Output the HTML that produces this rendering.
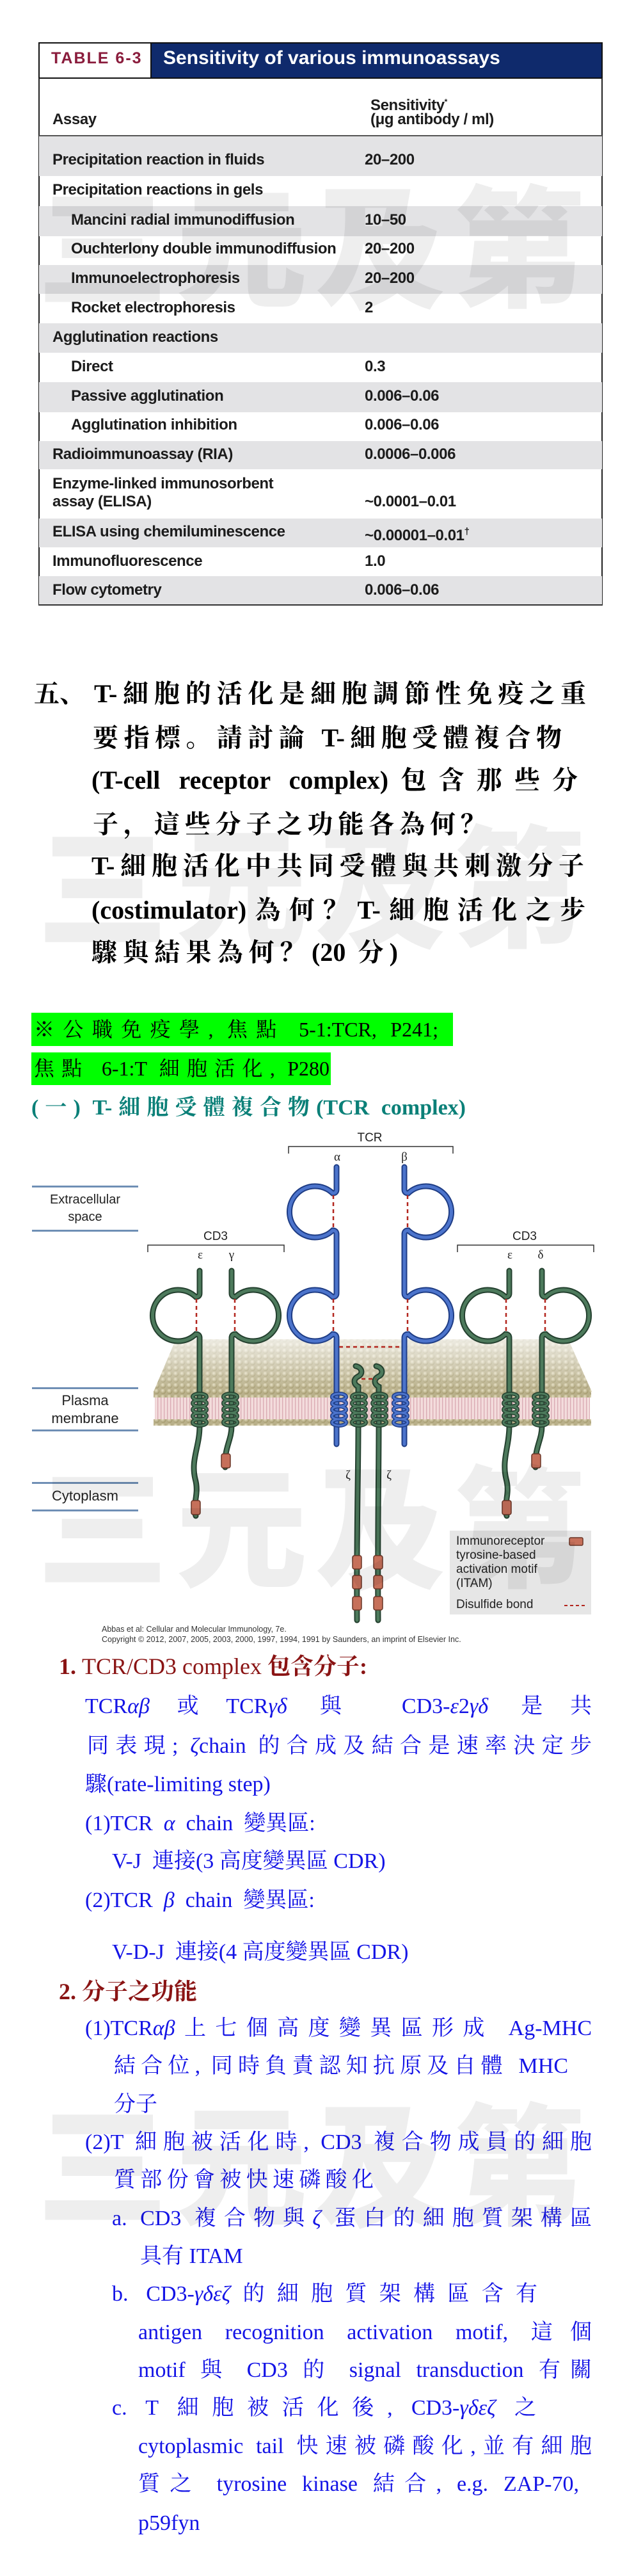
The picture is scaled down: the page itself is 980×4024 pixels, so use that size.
<!DOCTYPE html>
<html><head><meta charset="utf-8">
<style>
body{margin:0;padding:0;background:#fff;}
#pg{position:relative;width:980px;height:4024px;overflow:hidden;background:#fff;}
.a{position:absolute;white-space:nowrap;}
.tr{position:absolute;left:61px;width:880px;}
.g{background:#e3e3e5;}
.tc{position:absolute;font-family:"Liberation Sans",sans-serif;font-weight:bold;font-size:24px;letter-spacing:-0.4px;color:#1c1c1c;white-space:nowrap;line-height:28px;}
.wm{position:absolute;left:58px;font-family:"Noto Sans CJK TC","Noto Sans CJK SC",sans-serif;font-weight:900;font-size:205px;line-height:205px;letter-spacing:12px;color:rgba(0,0,0,0.065);z-index:20;white-space:nowrap;}
.q{position:absolute;font-family:"Liberation Serif","Noto Serif CJK SC",serif;font-weight:bold;font-size:40px;line-height:60px;height:60px;color:#000;text-align:justify;text-align-last:justify;}
.b{position:absolute;font-family:"Liberation Serif","Noto Serif CJK SC",serif;font-size:34px;line-height:60px;height:60px;color:#1414e6;}
.j{text-align:justify;text-align-last:justify;}
.r{position:absolute;font-family:"Liberation Serif","Noto Serif CJK SC",serif;font-weight:bold;font-size:36px;line-height:60px;height:60px;color:#8a1414;}
i{font-style:italic;}
.lab{position:absolute;font-family:"Liberation Sans",sans-serif;color:#222;text-align:center;}
.lb{position:absolute;left:50px;width:166px;height:0;border-top:3px solid #6f8fb5;}
</style></head><body><div id="pg">

<!-- TABLE -->
<div class="a" style="left:60px;top:66px;width:882px;height:57px;border:2px solid #111;box-sizing:border-box;background:#0f2a6c;"></div>
<div class="a" style="left:60px;top:66px;width:177px;height:57px;border:2px solid #111;box-sizing:border-box;background:#fff;"></div>
<div class="a" style="left:80px;top:77px;font-family:'Liberation Sans',sans-serif;font-weight:bold;font-size:25px;letter-spacing:2px;color:#8a1c3c;">TABLE 6-3</div>
<div class="a" style="left:255px;top:74px;font-family:'Liberation Sans',sans-serif;font-weight:bold;font-size:30px;color:#fff;">Sensitivity of various immunoassays</div>
<div class="a" style="left:60px;top:122px;width:2px;height:823px;background:#222;"></div>
<div class="a" style="left:940px;top:122px;width:2px;height:823px;background:#222;"></div>
<div class="tc" style="left:82px;top:173px;">Assay</div>
<div class="tc" style="left:579px;top:145px;">Sensitivity<sup style="font-size:12px">*</sup></div>
<div class="tc" style="left:579px;top:173px;">(μg antibody / ml)</div>
<div class="a" style="left:61px;top:211px;width:880px;height:2px;background:#555;"></div>

<div class="tr g" style="top:213px;height:62px;"></div>
<div class="tr g" style="top:322px;height:47px;"></div>
<div class="tr g" style="top:414px;height:45px;"></div>
<div class="tr g" style="top:505px;height:46px;"></div>
<div class="tr g" style="top:597px;height:47px;"></div>
<div class="tr g" style="top:689px;height:44px;"></div>
<div class="tr g" style="top:810px;height:45px;"></div>
<div class="tr g" style="top:900px;height:45px;"></div>
<div class="a" style="left:60px;top:944px;width:882px;height:2px;background:#333;"></div>

<div class="tc" style="left:82px;top:236px;">Precipitation reaction in fluids</div><div class="tc" style="left:570px;top:236px;">20–200</div>
<div class="tc" style="left:82px;top:283px;">Precipitation reactions in gels</div>
<div class="tc" style="left:111px;top:330px;">Mancini radial immunodiffusion</div><div class="tc" style="left:570px;top:330px;">10–50</div>
<div class="tc" style="left:111px;top:375px;">Ouchterlony double immunodiffusion</div><div class="tc" style="left:570px;top:375px;">20–200</div>
<div class="tc" style="left:111px;top:421px;">Immunoelectrophoresis</div><div class="tc" style="left:570px;top:421px;">20–200</div>
<div class="tc" style="left:111px;top:467px;">Rocket electrophoresis</div><div class="tc" style="left:570px;top:467px;">2</div>
<div class="tc" style="left:82px;top:513px;">Agglutination reactions</div>
<div class="tc" style="left:111px;top:559px;">Direct</div><div class="tc" style="left:570px;top:559px;">0.3</div>
<div class="tc" style="left:111px;top:605px;">Passive agglutination</div><div class="tc" style="left:570px;top:605px;">0.006–0.06</div>
<div class="tc" style="left:111px;top:650px;">Agglutination inhibition</div><div class="tc" style="left:570px;top:650px;">0.006–0.06</div>
<div class="tc" style="left:82px;top:696px;">Radioimmunoassay (RIA)</div><div class="tc" style="left:570px;top:696px;">0.0006–0.006</div>
<div class="tc" style="left:82px;top:742px;">Enzyme-linked immunosorbent</div>
<div class="tc" style="left:82px;top:770px;">assay (ELISA)</div><div class="tc" style="left:570px;top:770px;">~0.0001–0.01</div>
<div class="tc" style="left:82px;top:817px;">ELISA using chemiluminescence</div><div class="tc" style="left:570px;top:817px;">~0.00001–0.01<sup style="font-size:15px">†</sup></div>
<div class="tc" style="left:82px;top:863px;">Immunofluorescence</div><div class="tc" style="left:570px;top:863px;">1.0</div>
<div class="tc" style="left:82px;top:908px;">Flow cytometry</div><div class="tc" style="left:570px;top:908px;">0.006–0.06</div>

<!-- QUESTION -->
<div class="q" style="left:53px;top:1054px;text-align:left;text-align-last:left;">五、</div>
<div class="q" style="left:147px;top:1054px;width:769px;">T-細胞的活化是細胞調節性免疫之重</div>
<div class="q" style="left:145px;top:1123px;width:733px;">要指標。請討論 T-細胞受體複合物</div>
<div class="q" style="left:143px;top:1189px;width:760px;">(T-cell receptor complex)包含那些分</div>
<div class="q" style="left:145px;top:1258px;width:615px;">子，這些分子之功能各為何？</div>
<div class="q" style="left:143px;top:1323px;width:770px;">T-細胞活化中共同受體與共刺激分子</div>
<div class="q" style="left:143px;top:1392px;width:772px;">(costimulator)為何？T-細胞活化之步</div>
<div class="q" style="left:143px;top:1458px;width:479px;">驟與結果為何？(20 分)</div>

<div class="a" style="left:49px;top:1582px;width:659px;height:52px;background:#00ff00;"></div>
<div class="a" style="left:49px;top:1644px;width:468px;height:51px;background:#00ff00;"></div>
<div class="b j" style="left:53px;top:1578px;width:632px;color:#000;font-size:32px;">※公職免疫學, 焦點 5-1:TCR, P241;</div>
<div class="b j" style="left:53px;top:1639px;width:462px;color:#000;font-size:32px;">焦點 6-1:T 細胞活化, P280</div>
<div class="r" style="left:49px;top:1701px;font-size:34px;color:#0b8078;width:679px;text-align:justify;text-align-last:justify;">(一) T-細胞受體複合物(TCR complex)</div>

<!-- FIGURE -->
<svg class="a" style="left:0;top:1760px;" width="980" height="820" viewBox="0 1760 980 820" xmlns="http://www.w3.org/2000/svg">
<defs>
<radialGradient id="bd" cx="40%" cy="35%" r="60%"><stop offset="0" stop-color="#e6dfc2"/><stop offset="1" stop-color="#a59b70"/></radialGradient>
<pattern id="beads" width="10" height="9" patternUnits="userSpaceOnUse"><rect width="10" height="9" fill="#b9b08a"/><circle cx="5" cy="4.5" r="4.3" fill="url(#bd)"/></pattern>
<pattern id="lip" width="5" height="36" patternUnits="userSpaceOnUse"><rect width="5" height="36" fill="#f3dcdc"/><rect x="1" width="1.3" height="36" fill="#d9a9b2"/></pattern>
<linearGradient id="fade" x1="0" y1="0" x2="0" y2="1"><stop offset="0" stop-color="#fff" stop-opacity="0.75"/><stop offset="1" stop-color="#fff" stop-opacity="0"/></linearGradient>
<path id="pa" d="M526,1823 V1858 Q526,1864 520,1864 A40,40 0 1 0 520,1922 Q526,1922 526,1928 V2020 Q526,2026 520,2026 A40,40 0 1 0 520,2084 Q526,2084 526,2090 V2256"/>
<path id="pb" d="M632,1823 V1858 Q632,1864 638,1864 A40,40 0 1 1 638,1922 Q632,1922 632,1928 V2020 Q632,2026 638,2026 A40,40 0 1 1 638,2084 Q632,2084 632,2090 V2256"/>
<path id="e1" d="M312,1985 V2020 Q312,2026 306,2026 A40,40 0 1 0 306,2084 Q312,2084 312,2090 V2228 C312,2260 298,2280 305,2310 C312,2335 300,2350 306,2368"/>
<path id="g1" d="M362,1985 V2020 Q362,2026 368,2026 A40,40 0 1 1 368,2084 Q362,2084 362,2090 V2228 C362,2250 350,2262 352,2292"/>
<path id="e2" d="M796,1985 V2020 Q796,2026 790,2026 A40,40 0 1 0 790,2084 Q796,2084 796,2090 V2228 C796,2260 784,2280 791,2310 C798,2335 786,2350 792,2368"/>
<path id="d2" d="M847,1985 V2020 Q847,2026 853,2026 A40,40 0 1 1 853,2084 Q847,2084 847,2090 V2228 C847,2250 835,2262 837,2292"/>
<path id="z1" d="M556,2134 C566,2136 568,2146 560,2150 C552,2154 552,2162 560,2166 V2230 C560,2300 557,2400 558,2531"/>
<path id="z2" d="M588,2134 C598,2136 600,2146 592,2150 C584,2154 584,2162 592,2166 V2230 C592,2300 590,2400 591,2531"/>
</defs>
<text x="578" y="1783" font-family="Liberation Sans" font-size="19" text-anchor="middle" fill="#222">TCR</text>
<path d="M451,1802 V1791 H708 V1802" fill="none" stroke="#333" stroke-width="1.5"/>
<text x="527" y="1813" font-family="Liberation Serif" font-size="19" text-anchor="middle" fill="#222">α</text>
<text x="632" y="1813" font-family="Liberation Serif" font-size="19" text-anchor="middle" fill="#222">β</text>
<text x="337" y="1937" font-family="Liberation Sans" font-size="19" text-anchor="middle" fill="#222">CD3</text>
<path d="M231,1956 V1945 H444 V1956" fill="none" stroke="#333" stroke-width="1.5"/>
<text x="313" y="1966" font-family="Liberation Serif" font-size="19" text-anchor="middle" fill="#222">ε</text>
<text x="362" y="1966" font-family="Liberation Serif" font-size="19" text-anchor="middle" fill="#222">γ</text>
<text x="820" y="1937" font-family="Liberation Sans" font-size="19" text-anchor="middle" fill="#222">CD3</text>
<path d="M715,1956 V1945 H928 V1956" fill="none" stroke="#333" stroke-width="1.5"/>
<text x="797" y="1966" font-family="Liberation Serif" font-size="19" text-anchor="middle" fill="#222">ε</text>
<text x="845" y="1966" font-family="Liberation Serif" font-size="19" text-anchor="middle" fill="#222">δ</text>
<polygon points="275,2092 888,2092 925,2174 240,2174" fill="url(#beads)"/>
<polygon points="275,2092 888,2092 925,2174 240,2174" fill="url(#fade)"/>
<rect x="242" y="2180" width="680" height="40" fill="url(#lip)"/>
<rect x="240" y="2173" width="684" height="10" fill="url(#beads)"/>
<rect x="240" y="2217" width="684" height="10" fill="url(#beads)"/>
<g fill="none" stroke-linecap="round">
<g stroke="#24402f" stroke-width="9"><use href="#e1"/><use href="#g1"/><use href="#e2"/><use href="#d2"/><use href="#z1"/><use href="#z2"/></g>
<g stroke="#4d7a5c" stroke-width="5"><use href="#e1"/><use href="#g1"/><use href="#e2"/><use href="#d2"/><use href="#z1"/><use href="#z2"/></g>
<g stroke="#1f3d85" stroke-width="9"><use href="#pa"/><use href="#pb"/></g>
<g stroke="#4c74cc" stroke-width="5"><use href="#pa"/><use href="#pb"/></g>
</g>
<g stroke="#b3261e" stroke-width="2.5" stroke-dasharray="6,5" fill="none">
<path d="M521,1867 V1920 M521,2029 V2082 M637,1867 V1920 M637,2029 V2082 M307,2029 V2082 M367,2029 V2082 M791,2029 V2082 M852,2029 V2082 M530,2104 H628 M565,2154 H588"/>
</g>
<g fill="none">
<g stroke="#24402f" stroke-width="6">
<ellipse cx="312" cy="2182" rx="11" ry="5"/><ellipse cx="312" cy="2192" rx="11" ry="5"/><ellipse cx="312" cy="2202" rx="11" ry="5"/><ellipse cx="312" cy="2212" rx="11" ry="5"/><ellipse cx="312" cy="2222" rx="11" ry="5"/>
<ellipse cx="360" cy="2182" rx="11" ry="5"/><ellipse cx="360" cy="2192" rx="11" ry="5"/><ellipse cx="360" cy="2202" rx="11" ry="5"/><ellipse cx="360" cy="2212" rx="11" ry="5"/><ellipse cx="360" cy="2222" rx="11" ry="5"/>
<ellipse cx="561" cy="2182" rx="11" ry="5"/><ellipse cx="561" cy="2192" rx="11" ry="5"/><ellipse cx="561" cy="2202" rx="11" ry="5"/><ellipse cx="561" cy="2212" rx="11" ry="5"/><ellipse cx="561" cy="2222" rx="11" ry="5"/>
<ellipse cx="593" cy="2182" rx="11" ry="5"/><ellipse cx="593" cy="2192" rx="11" ry="5"/><ellipse cx="593" cy="2202" rx="11" ry="5"/><ellipse cx="593" cy="2212" rx="11" ry="5"/><ellipse cx="593" cy="2222" rx="11" ry="5"/>
<ellipse cx="798" cy="2182" rx="11" ry="5"/><ellipse cx="798" cy="2192" rx="11" ry="5"/><ellipse cx="798" cy="2202" rx="11" ry="5"/><ellipse cx="798" cy="2212" rx="11" ry="5"/><ellipse cx="798" cy="2222" rx="11" ry="5"/>
<ellipse cx="845" cy="2182" rx="11" ry="5"/><ellipse cx="845" cy="2192" rx="11" ry="5"/><ellipse cx="845" cy="2202" rx="11" ry="5"/><ellipse cx="845" cy="2212" rx="11" ry="5"/><ellipse cx="845" cy="2222" rx="11" ry="5"/>
</g>
<g stroke="#4d7a5c" stroke-width="3">
<ellipse cx="312" cy="2182" rx="11" ry="5"/><ellipse cx="312" cy="2192" rx="11" ry="5"/><ellipse cx="312" cy="2202" rx="11" ry="5"/><ellipse cx="312" cy="2212" rx="11" ry="5"/><ellipse cx="312" cy="2222" rx="11" ry="5"/>
<ellipse cx="360" cy="2182" rx="11" ry="5"/><ellipse cx="360" cy="2192" rx="11" ry="5"/><ellipse cx="360" cy="2202" rx="11" ry="5"/><ellipse cx="360" cy="2212" rx="11" ry="5"/><ellipse cx="360" cy="2222" rx="11" ry="5"/>
<ellipse cx="561" cy="2182" rx="11" ry="5"/><ellipse cx="561" cy="2192" rx="11" ry="5"/><ellipse cx="561" cy="2202" rx="11" ry="5"/><ellipse cx="561" cy="2212" rx="11" ry="5"/><ellipse cx="561" cy="2222" rx="11" ry="5"/>
<ellipse cx="593" cy="2182" rx="11" ry="5"/><ellipse cx="593" cy="2192" rx="11" ry="5"/><ellipse cx="593" cy="2202" rx="11" ry="5"/><ellipse cx="593" cy="2212" rx="11" ry="5"/><ellipse cx="593" cy="2222" rx="11" ry="5"/>
<ellipse cx="798" cy="2182" rx="11" ry="5"/><ellipse cx="798" cy="2192" rx="11" ry="5"/><ellipse cx="798" cy="2202" rx="11" ry="5"/><ellipse cx="798" cy="2212" rx="11" ry="5"/><ellipse cx="798" cy="2222" rx="11" ry="5"/>
<ellipse cx="845" cy="2182" rx="11" ry="5"/><ellipse cx="845" cy="2192" rx="11" ry="5"/><ellipse cx="845" cy="2202" rx="11" ry="5"/><ellipse cx="845" cy="2212" rx="11" ry="5"/><ellipse cx="845" cy="2222" rx="11" ry="5"/>
</g>
<g stroke="#1f3d85" stroke-width="6">
<ellipse cx="530" cy="2182" rx="11" ry="5"/><ellipse cx="530" cy="2192" rx="11" ry="5"/><ellipse cx="530" cy="2202" rx="11" ry="5"/><ellipse cx="530" cy="2212" rx="11" ry="5"/><ellipse cx="530" cy="2222" rx="11" ry="5"/>
<ellipse cx="626" cy="2182" rx="11" ry="5"/><ellipse cx="626" cy="2192" rx="11" ry="5"/><ellipse cx="626" cy="2202" rx="11" ry="5"/><ellipse cx="626" cy="2212" rx="11" ry="5"/><ellipse cx="626" cy="2222" rx="11" ry="5"/>
</g>
<g stroke="#4c74cc" stroke-width="3">
<ellipse cx="530" cy="2182" rx="11" ry="5"/><ellipse cx="530" cy="2192" rx="11" ry="5"/><ellipse cx="530" cy="2202" rx="11" ry="5"/><ellipse cx="530" cy="2212" rx="11" ry="5"/><ellipse cx="530" cy="2222" rx="11" ry="5"/>
<ellipse cx="626" cy="2182" rx="11" ry="5"/><ellipse cx="626" cy="2192" rx="11" ry="5"/><ellipse cx="626" cy="2202" rx="11" ry="5"/><ellipse cx="626" cy="2212" rx="11" ry="5"/><ellipse cx="626" cy="2222" rx="11" ry="5"/>
</g>
</g>
<g fill="#c6705a" stroke="#6a3526" stroke-width="1.5">
<rect x="299" y="2344" width="14" height="22" rx="3"/>
<rect x="346" y="2271" width="14" height="22" rx="3"/>
<rect x="785" y="2344" width="14" height="22" rx="3"/>
<rect x="831" y="2271" width="14" height="22" rx="3"/>
<rect x="551" y="2430" width="14" height="21" rx="3"/><rect x="551" y="2461" width="14" height="21" rx="3"/><rect x="551" y="2494" width="14" height="21" rx="3"/>
<rect x="584" y="2430" width="14" height="21" rx="3"/><rect x="584" y="2461" width="14" height="21" rx="3"/><rect x="584" y="2494" width="14" height="21" rx="3"/>
</g>
<text x="544" y="2310" font-family="Liberation Serif" font-size="19" text-anchor="middle" fill="#222">ζ</text>
<text x="608" y="2310" font-family="Liberation Serif" font-size="19" text-anchor="middle" fill="#222">ζ</text>
<rect x="703" y="2391" width="221" height="131" fill="#e6e6e6"/>
<g font-family="Liberation Sans" font-size="19" fill="#222">
<text x="713" y="2413">Immunoreceptor</text>
<text x="713" y="2435">tyrosine-based</text>
<text x="713" y="2457">activation motif</text>
<text x="713" y="2479">(ITAM)</text>
<text x="713" y="2512">Disulfide bond</text>
</g>
<rect x="890" y="2402" width="21" height="12" rx="2" fill="#c6705a" stroke="#6a3526" stroke-width="1.5"/>
<path d="M882,2508 H916" stroke="#b3261e" stroke-width="2" stroke-dasharray="5,4"/>
<g font-family="Liberation Sans" font-size="12.5" fill="#333">
<text x="159" y="2549">Abbas et al: Cellular and Molecular Immunology, 7e.</text>
<text x="159" y="2565">Copyright © 2012, 2007, 2005, 2003, 2000, 1997, 1994, 1991 by Saunders, an imprint of Elsevier Inc.</text>
</g>
</svg>
<div class="lb" style="top:1852px;"></div><div class="lb" style="top:1921px;"></div>
<div class="lab" style="left:50px;top:1861px;width:166px;font-size:20px;line-height:27px;">Extracellular<br>space</div>
<div class="lb" style="top:2167px;"></div><div class="lb" style="top:2233px;"></div>
<div class="lab" style="left:50px;top:2174px;width:166px;font-size:22px;line-height:28px;">Plasma<br>membrane</div>
<div class="lb" style="top:2315px;"></div><div class="lb" style="top:2358px;"></div>
<div class="lab" style="left:50px;top:2323px;width:166px;font-size:22px;line-height:28px;">Cytoplasm</div>

<!-- ANSWER -->
<div class="r" style="left:92px;top:2573px;"><span style="font-weight:bold">1.</span> <span style="font-weight:normal">TCR/CD3 complex</span> 包含分子:</div>
<div class="b j" style="left:133px;top:2636px;width:792px;">TCR<i>αβ</i>或TCR<i>γδ</i> 與 CD3-<i>ε</i>2<i>γδ</i> 是共</div>
<div class="b j" style="left:136px;top:2698px;width:789px;">同表現; <i>ζ</i>chain 的合成及結合是速率決定步</div>
<div class="b" style="left:133px;top:2758px;">驟(rate-limiting step)</div>
<div class="b" style="left:133px;top:2819px;">(1)TCR&nbsp; <i>α</i>&nbsp; chain&nbsp; 變異區:</div>
<div class="b" style="left:175px;top:2878px;">V-J&nbsp; 連接(3 高度變異區 CDR)</div>
<div class="b" style="left:133px;top:2939px;">(2)TCR&nbsp; <i>β</i>&nbsp; chain&nbsp; 變異區:</div>
<div class="b" style="left:175px;top:3020px;">V-D-J&nbsp; 連接(4 高度變異區 CDR)</div>
<div class="r" style="left:92px;top:3081px;">2. 分子之功能</div>
<div class="b j" style="left:133px;top:3139px;width:792px;">(1)TCR<i>αβ</i>上七個高度變異區形成 Ag-MHC</div>
<div class="b j" style="left:178px;top:3198px;width:710px;">結合位, 同時負責認知抗原及自體 MHC</div>
<div class="b" style="left:178px;top:3258px;">分子</div>
<div class="b j" style="left:133px;top:3317px;width:792px;">(2)T 細胞被活化時, CD3 複合物成員的細胞</div>
<div class="b j" style="left:178px;top:3376px;width:406px;">質部份會被快速磷酸化</div>
<div class="b j" style="left:175px;top:3436px;width:750px;">a. CD3 複合物與<i>ζ</i> 蛋白的細胞質架構區</div>
<div class="b" style="left:219px;top:3495px;">具有 ITAM</div>
<div class="b j" style="left:175px;top:3554px;width:665px;">b. CD3-<i>γδεζ</i>的細胞質架構區含有</div>
<div class="b j" style="left:216px;top:3614px;width:709px;">antigen recognition activation motif, 這個</div>
<div class="b j" style="left:216px;top:3673px;width:709px;">motif 與 CD3 的 signal transduction 有關</div>
<div class="b j" style="left:175px;top:3732px;width:663px;">c. T 細胞被活化後, CD3-<i>γδεζ</i> 之</div>
<div class="b j" style="left:216px;top:3792px;width:709px;">cytoplasmic tail 快速被磷酸化,並有細胞</div>
<div class="b j" style="left:216px;top:3851px;width:689px;">質之 tyrosine kinase 結合, e.g. ZAP-70,</div>
<div class="b" style="left:216px;top:3912px;">p59fyn</div>

<!-- WATERMARKS -->
<div class="wm" style="top:272px;">三元及第</div>
<div class="wm" style="top:1272px;">三元及第</div>
<div class="wm" style="top:2272px;">三元及第</div>
<div class="wm" style="top:3268px;">三元及第</div>

</div></body></html>
